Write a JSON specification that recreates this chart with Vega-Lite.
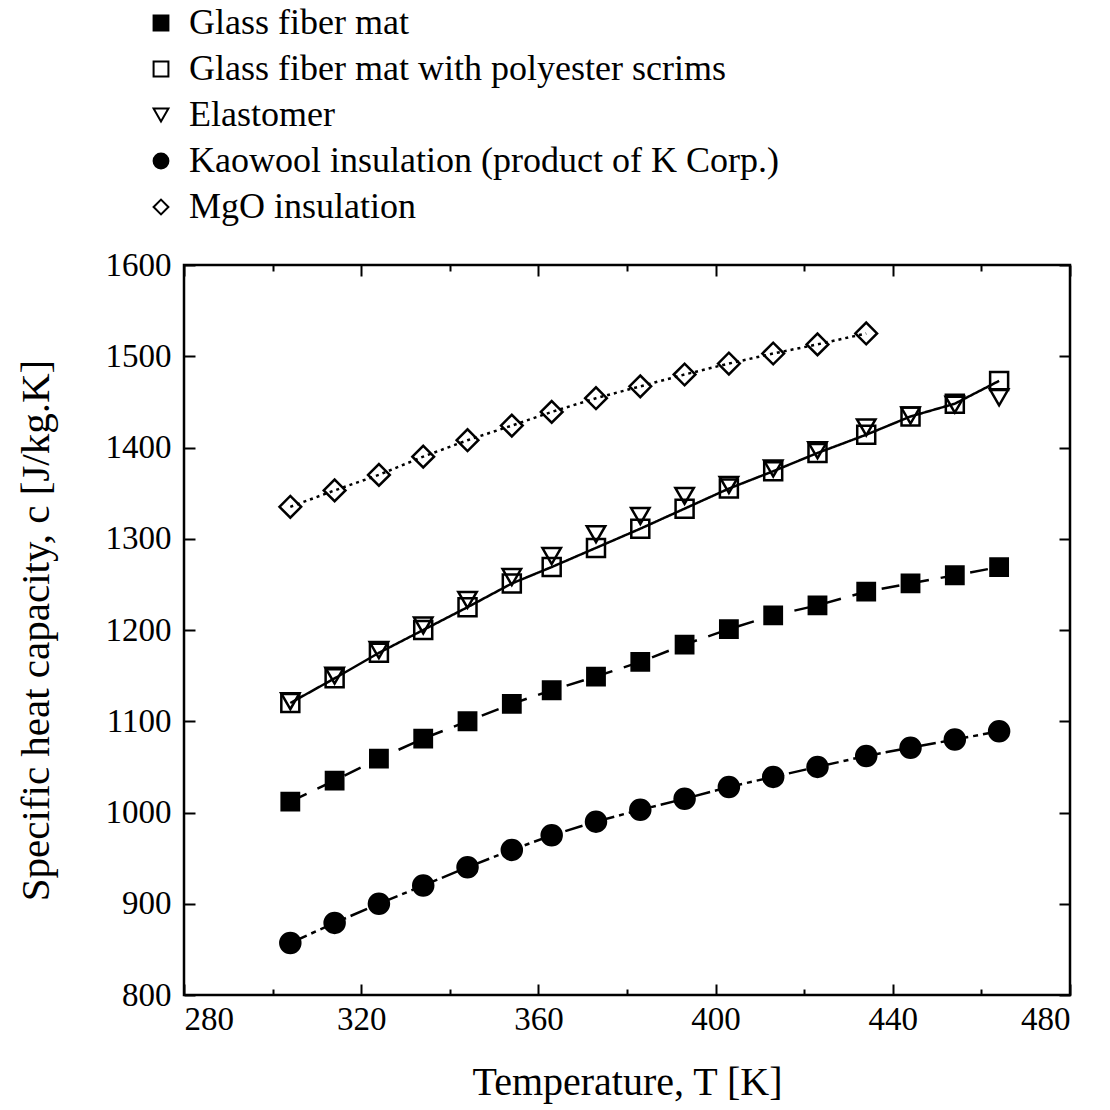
{
  "$schema": "https://vega.github.io/schema/vega-lite/v6.json",
  "width": 886,
  "height": 730,
  "autosize": {"type": "none"},
  "padding": {"left": 184, "top": 265, "right": 40, "bottom": 115},
  "background": "white",
  "config": {
    "view": {"stroke": "black", "strokeWidth": 2.5},
    "font": "Liberation Serif",
    "axis": {
      "domain": false,
      "grid": false,
      "tickColor": "black",
      "tickWidth": 2,
      "labelColor": "black",
      "labelFont": "Liberation Serif",
      "labelFontSize": 33,
      "titleFont": "Liberation Serif",
      "titleFontWeight": "normal",
      "titleColor": "black"
    }
  },
  "data": {
    "values": [
      {"T": 304, "c": 1012, "series": "Glass fiber mat"},
      {"T": 314, "c": 1035, "series": "Glass fiber mat"},
      {"T": 324, "c": 1059, "series": "Glass fiber mat"},
      {"T": 334, "c": 1081, "series": "Glass fiber mat"},
      {"T": 344, "c": 1100, "series": "Glass fiber mat"},
      {"T": 354, "c": 1119, "series": "Glass fiber mat"},
      {"T": 363, "c": 1134, "series": "Glass fiber mat"},
      {"T": 373, "c": 1149, "series": "Glass fiber mat"},
      {"T": 383, "c": 1165, "series": "Glass fiber mat"},
      {"T": 393, "c": 1184, "series": "Glass fiber mat"},
      {"T": 403, "c": 1201, "series": "Glass fiber mat"},
      {"T": 413, "c": 1216, "series": "Glass fiber mat"},
      {"T": 423, "c": 1227, "series": "Glass fiber mat"},
      {"T": 434, "c": 1242, "series": "Glass fiber mat"},
      {"T": 444, "c": 1251, "series": "Glass fiber mat"},
      {"T": 454, "c": 1260, "series": "Glass fiber mat"},
      {"T": 464, "c": 1269, "series": "Glass fiber mat"},
      {"T": 304, "c": 1120, "series": "Glass fiber mat with polyester scrims"},
      {"T": 314, "c": 1147, "series": "Glass fiber mat with polyester scrims"},
      {"T": 324, "c": 1175, "series": "Glass fiber mat with polyester scrims"},
      {"T": 334, "c": 1200, "series": "Glass fiber mat with polyester scrims"},
      {"T": 344, "c": 1225, "series": "Glass fiber mat with polyester scrims"},
      {"T": 354, "c": 1251, "series": "Glass fiber mat with polyester scrims"},
      {"T": 363, "c": 1269, "series": "Glass fiber mat with polyester scrims"},
      {"T": 373, "c": 1290, "series": "Glass fiber mat with polyester scrims"},
      {"T": 383, "c": 1311, "series": "Glass fiber mat with polyester scrims"},
      {"T": 393, "c": 1333, "series": "Glass fiber mat with polyester scrims"},
      {"T": 403, "c": 1355, "series": "Glass fiber mat with polyester scrims"},
      {"T": 413, "c": 1374, "series": "Glass fiber mat with polyester scrims"},
      {"T": 423, "c": 1394, "series": "Glass fiber mat with polyester scrims"},
      {"T": 434, "c": 1414, "series": "Glass fiber mat with polyester scrims"},
      {"T": 444, "c": 1434, "series": "Glass fiber mat with polyester scrims"},
      {"T": 454, "c": 1448, "series": "Glass fiber mat with polyester scrims"},
      {"T": 464, "c": 1473, "series": "Glass fiber mat with polyester scrims"},
      {"T": 304, "c": 1122, "series": "Elastomer"},
      {"T": 314, "c": 1150, "series": "Elastomer"},
      {"T": 324, "c": 1178, "series": "Elastomer"},
      {"T": 334, "c": 1205, "series": "Elastomer"},
      {"T": 344, "c": 1233, "series": "Elastomer"},
      {"T": 354, "c": 1258, "series": "Elastomer"},
      {"T": 363, "c": 1281, "series": "Elastomer"},
      {"T": 373, "c": 1305, "series": "Elastomer"},
      {"T": 383, "c": 1325, "series": "Elastomer"},
      {"T": 393, "c": 1347, "series": "Elastomer"},
      {"T": 403, "c": 1359, "series": "Elastomer"},
      {"T": 413, "c": 1377, "series": "Elastomer"},
      {"T": 423, "c": 1397, "series": "Elastomer"},
      {"T": 434, "c": 1422, "series": "Elastomer"},
      {"T": 444, "c": 1435, "series": "Elastomer"},
      {"T": 454, "c": 1447, "series": "Elastomer"},
      {"T": 464, "c": 1455, "series": "Elastomer"},
      {"T": 304, "c": 857, "series": "Kaowool insulation (product of K Corp.)"},
      {"T": 314, "c": 879, "series": "Kaowool insulation (product of K Corp.)"},
      {"T": 324, "c": 900, "series": "Kaowool insulation (product of K Corp.)"},
      {"T": 334, "c": 920, "series": "Kaowool insulation (product of K Corp.)"},
      {"T": 344, "c": 940, "series": "Kaowool insulation (product of K Corp.)"},
      {"T": 354, "c": 959, "series": "Kaowool insulation (product of K Corp.)"},
      {"T": 363, "c": 975, "series": "Kaowool insulation (product of K Corp.)"},
      {"T": 373, "c": 990, "series": "Kaowool insulation (product of K Corp.)"},
      {"T": 383, "c": 1003, "series": "Kaowool insulation (product of K Corp.)"},
      {"T": 393, "c": 1015, "series": "Kaowool insulation (product of K Corp.)"},
      {"T": 403, "c": 1028, "series": "Kaowool insulation (product of K Corp.)"},
      {"T": 413, "c": 1039, "series": "Kaowool insulation (product of K Corp.)"},
      {"T": 423, "c": 1050, "series": "Kaowool insulation (product of K Corp.)"},
      {"T": 434, "c": 1062, "series": "Kaowool insulation (product of K Corp.)"},
      {"T": 444, "c": 1071, "series": "Kaowool insulation (product of K Corp.)"},
      {"T": 454, "c": 1080, "series": "Kaowool insulation (product of K Corp.)"},
      {"T": 464, "c": 1089, "series": "Kaowool insulation (product of K Corp.)"},
      {"T": 304, "c": 1335, "series": "MgO insulation"},
      {"T": 314, "c": 1353, "series": "MgO insulation"},
      {"T": 324, "c": 1370, "series": "MgO insulation"},
      {"T": 334, "c": 1390, "series": "MgO insulation"},
      {"T": 344, "c": 1408, "series": "MgO insulation"},
      {"T": 354, "c": 1424, "series": "MgO insulation"},
      {"T": 363, "c": 1439, "series": "MgO insulation"},
      {"T": 373, "c": 1454, "series": "MgO insulation"},
      {"T": 383, "c": 1467, "series": "MgO insulation"},
      {"T": 393, "c": 1480, "series": "MgO insulation"},
      {"T": 403, "c": 1492, "series": "MgO insulation"},
      {"T": 413, "c": 1503, "series": "MgO insulation"},
      {"T": 423, "c": 1513, "series": "MgO insulation"},
      {"T": 434, "c": 1525, "series": "MgO insulation"}
    ]
  },
  "layer": [
    {
      "encoding": {
        "x": {
          "field": "T", "type": "quantitative",
          "scale": {"domain": [280, 480], "nice": false, "zero": false},
          "axis": {
            "orient": "bottom",
            "title": "Temperature, T [K]",
            "titleFontSize": 40,
            "values": [280, 300, 320, 340, 360, 380, 400, 420, 440, 460, 480],
            "labelExpr": "datum.value % 40 === 0 ? datum.label : ''",
            "tickSize": {"condition": {"test": "datum.value % 40 === 0", "value": -11}, "value": -6},
            "labelPadding": 19,
            "titlePadding": 26
          }
        },
        "y": {
          "field": "c", "type": "quantitative",
          "scale": {"domain": [800, 1600], "nice": false, "zero": false},
          "axis": {
            "orient": "left",
            "title": "Specific heat capacity, c [J/kg.K]",
            "titleFontSize": 41,
            "format": "d",
            "values": [800, 900, 1000, 1100, 1200, 1300, 1400, 1500, 1600],
            "tickSize": -11,
            "labelPadding": 24,
            "titlePadding": 48
          }
        },
        "shape": {
          "field": "series", "type": "nominal",
          "scale": {
            "domain": ["Glass fiber mat", "Glass fiber mat with polyester scrims", "Elastomer", "Kaowool insulation (product of K Corp.)", "MgO insulation"],
            "range": ["square", "square", "triangle-down", "circle", "diamond"]
          },
          "legend": {
            "title": null,
            "orient": "none",
            "legendX": -41,
            "legendY": -260,
            "labelFont": "Liberation Serif",
            "labelFontSize": 36,
            "labelColor": "black",
            "labelLimit": 1000,
            "labelOffset": 10,
            "rowPadding": 10,
            "symbolSize": 220,
            "symbolStrokeWidth": 2
          }
        },
        "fill": {
          "field": "series", "type": "nominal",
          "scale": {
            "domain": ["Glass fiber mat", "Glass fiber mat with polyester scrims", "Elastomer", "Kaowool insulation (product of K Corp.)", "MgO insulation"],
            "range": ["black", "transparent", "transparent", "black", "transparent"]
          }
        },
        "stroke": {
          "field": "series", "type": "nominal",
          "scale": {
            "domain": ["Glass fiber mat", "Glass fiber mat with polyester scrims", "Elastomer", "Kaowool insulation (product of K Corp.)", "MgO insulation"],
            "range": ["black", "black", "black", "black", "black"]
          }
        }
      },
      "layer": [
        {
          "transform": [{"filter": "datum.series !== 'Elastomer'"}],
          "mark": {"type": "line", "color": "black", "strokeWidth": 2.5},
          "encoding": {
            "shape": null,
            "fill": null,
            "stroke": null,
            "strokeDash": {
              "field": "series", "type": "nominal",
              "scale": {
                "domain": ["Glass fiber mat", "Glass fiber mat with polyester scrims", "Kaowool insulation (product of K Corp.)", "MgO insulation"],
                "range": [[18, 12], [1, 0], [18, 5, 5, 5], [3, 4]]
              },
              "legend": null
            },
            "detail": {"field": "series"}
          }
        },
        {
          "transform": [{"filter": "datum.series === 'Glass fiber mat'"}],
          "mark": {"type": "point", "strokeWidth": 2.5, "opacity": 1, "size": 300}
        },
        {
          "transform": [{"filter": "datum.series === 'Elastomer'"}],
          "mark": {"type": "point", "strokeWidth": 2.5, "opacity": 1, "size": 340}
        },
        {
          "transform": [{"filter": "datum.series === 'Glass fiber mat with polyester scrims'"}],
          "mark": {"type": "point", "strokeWidth": 2.5, "opacity": 1, "size": 324}
        },
        {
          "transform": [{"filter": "datum.series === 'Kaowool insulation (product of K Corp.)'"}],
          "mark": {"type": "point", "strokeWidth": 2.5, "opacity": 1, "size": 400}
        },
        {
          "transform": [{"filter": "datum.series === 'MgO insulation'"}],
          "mark": {"type": "point", "strokeWidth": 2.5, "opacity": 1, "size": 470}
        }
      ]
    },
    {
      "mark": {"type": "point", "opacity": 0},
      "encoding": {
        "x": {
          "field": "T", "type": "quantitative",
          "scale": {"domain": [280, 480], "nice": false, "zero": false},
          "axis": {
            "orient": "top",
            "title": null,
            "labels": false,
            "values": [280, 300, 320, 340, 360, 380, 400, 420, 440, 460, 480],
            "tickSize": {"condition": {"test": "datum.value % 40 === 0", "value": -11}, "value": -6}
          }
        },
        "y": {
          "field": "c", "type": "quantitative",
          "scale": {"domain": [800, 1600], "nice": false, "zero": false},
          "axis": {
            "orient": "right",
            "title": null,
            "labels": false,
            "values": [800, 900, 1000, 1100, 1200, 1300, 1400, 1500, 1600],
            "tickSize": -11
          }
        }
      }
    }
  ],
  "resolve": {"scale": {"x": "independent", "y": "independent"}}
}
